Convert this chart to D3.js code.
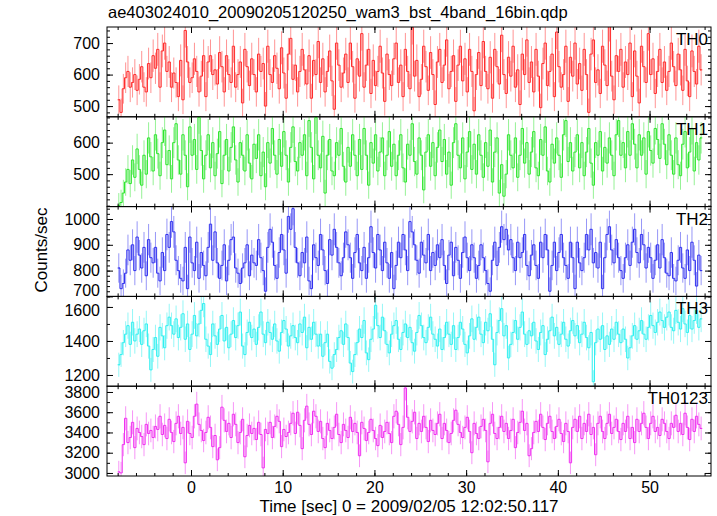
<!DOCTYPE html>
<html><head><meta charset="utf-8">
<script src="https://cdn.jsdelivr.net/npm/d3@7"></script>
<style>body{margin:0;background:#fff}svg{display:block}text{font-family:"Liberation Sans",Arial,sans-serif}</style>
</head><body><div id="c"></div>
<script>
const title = "ae403024010_20090205120250_wam3_bst_4band_16bin.qdp";
const xLabel = "Time [sec] 0 = 2009/02/05 12:02:50.117";
const yLabel = "Counts/sec";
const tStart = -7.875, binWidth = 0.25;
const panelNames = ["TH0","TH1","TH2","TH3","TH0123"];
const xTicks = [0,10,20,30,40,50];

const th0 = [520,480,555,590,610,560,575,600,550,585,625,560,545,635,590,660,620,680,560,675,
700,610,640,560,605,575,530,645,520,740,640,575,590,650,610,545,595,660,530,640,
660,600,615,570,670,625,545,660,600,575,690,560,600,640,510,680,625,565,650,600,
545,665,610,635,500,690,600,575,660,620,555,685,605,525,665,715,585,630,545,610,
680,615,570,660,525,645,600,705,575,650,545,610,675,580,490,700,630,560,605,665,
575,700,625,525,650,595,730,560,630,680,540,645,565,610,690,605,515,665,600,565,
650,700,575,630,530,680,610,555,750,595,645,530,585,690,625,550,670,600,505,640,
680,575,630,710,555,610,660,515,630,690,580,650,545,680,610,485,600,670,565,705,
610,555,655,525,680,625,570,725,600,540,655,595,690,560,615,505,665,600,710,575,
640,545,680,595,495,635,700,565,610,665,530,735,625,560,600,690,515,655,595,700,
570,635,550,680,600,480,665,710,575,615,540,690,630,565,760,595,520,660,610,680,
560,640,600,700,530,675,595,510,690,625,575,730,600,650,540,610,680,575,640,550,
610,700,625,565,665,615,550,680,580,530,675,610,570,690,615];
const th1 = [400,410,440,475,515,470,545,490,580,515,465,560,500,615,555,510,625,565,495,600,
640,530,575,485,600,660,545,500,625,560,460,650,560,610,515,680,575,485,560,625,
520,600,495,565,635,470,560,610,510,585,650,545,475,600,560,510,625,535,485,595,
550,625,495,570,460,600,535,645,560,500,610,525,635,560,475,585,650,540,510,600,
560,625,495,670,585,485,680,560,520,620,440,560,610,510,495,600,560,645,525,475,
585,525,625,560,495,610,515,645,560,465,600,535,625,510,570,615,495,560,635,525,
595,495,560,625,520,475,595,560,660,540,500,615,560,450,570,625,525,600,495,585,
640,540,610,500,570,465,600,660,560,520,615,485,570,635,515,595,500,625,560,490,
600,525,640,475,570,615,440,530,430,500,625,560,520,615,490,560,645,535,600,500,
570,635,520,495,610,560,650,510,475,595,535,615,560,490,625,670,540,600,510,570,
625,520,600,495,570,645,535,465,600,560,635,510,585,535,615,560,495,625,670,560,
600,520,635,560,660,595,520,625,560,615,500,635,575,535,645,610,550,660,595,530,
625,560,500,615,530,495,595,635,520,570,645,510,600,545,615];
const th2 = [810,730,750,790,880,840,900,800,930,860,810,890,780,920,850,830,890,790,760,870,
800,940,890,990,950,840,800,770,760,890,730,930,830,800,910,770,870,820,780,890,
980,840,950,830,770,820,900,760,840,920,930,810,790,750,810,830,900,780,860,830,
820,920,850,800,720,890,960,910,820,770,870,940,880,790,1010,960,1040,890,830,780,
870,830,930,760,730,900,850,820,940,880,800,750,920,860,960,890,830,780,850,950,
900,850,770,870,940,830,800,890,770,850,970,870,810,940,880,800,910,830,770,870,
730,820,910,850,940,880,800,990,950,900,840,790,910,860,830,940,800,870,820,900,
850,920,820,750,860,910,780,890,840,770,870,930,850,800,900,850,770,820,900,850,
800,750,720,840,910,820,890,970,920,960,880,920,850,800,910,850,870,940,820,780,
860,900,820,770,910,850,940,880,720,820,910,800,870,940,850,820,770,910,850,730,
910,830,800,850,940,880,960,830,870,810,910,730,850,940,970,880,830,920,850,800,
770,850,900,820,910,960,870,830,940,900,810,890,850,770,840,900,810,920,850,790,
780,870,770,760,840,890,810,770,880,800,910,840,740,860,800];
const th3 = [1260,1320,1390,1440,1490,1380,1510,1400,1440,1470,1380,1460,1500,1370,1230,1350,1420,1310,1480,1430,
1360,1490,1540,1490,1440,1530,1420,1480,1560,1410,1500,1350,1440,1550,1430,1500,1580,1620,1410,1370,
1320,1500,1430,1380,1470,1550,1400,1480,1360,1440,1520,1420,1490,1570,1370,1320,1450,1510,1420,1470,
1380,1480,1570,1440,1390,1510,1450,1410,1500,1400,1340,1450,1520,1470,1370,1430,1490,1420,1390,1500,
1450,1540,1360,1480,1410,1510,1440,1370,1440,1310,1390,1440,1280,1240,1320,1350,1420,1460,1380,1500,
1420,1270,1220,1320,1390,1470,1420,1520,1330,1290,1410,1470,1610,1490,1420,1540,1460,1380,1330,1440,
1490,1520,1410,1350,1450,1500,1420,1480,1390,1340,1450,1550,1490,1420,1390,1480,1540,1440,1410,1370,
1470,1350,1420,1510,1440,1380,1490,1350,1420,1510,1470,1380,1330,1430,1530,1410,1480,1540,1440,1390,
1510,1460,1560,1410,1260,1450,1520,1590,1430,1490,1300,1380,1450,1520,1410,1480,1570,1440,1380,1460,
1430,1510,1400,1350,1450,1490,1320,1410,1460,1540,1430,1480,1380,1440,1510,1410,1370,1460,1520,1430,
1490,1390,1440,1510,1420,1360,1450,1160,1390,1470,1410,1490,1350,1430,1380,1470,1410,1510,1440,1390,
1470,1410,1300,1360,1430,1490,1410,1460,1520,1440,1410,1480,1550,1490,1450,1510,1570,1520,1480,1540,
1570,1480,1460,1580,1510,1470,1590,1500,1450,1550,1470,1520,1580,1480,1530];
const th0123 = [3010,3000,3280,3540,3300,3350,3500,3250,3440,3400,3360,3280,3480,3390,3420,3350,3460,3430,3560,3380,
3470,3340,3530,3400,3310,3490,3560,3390,3450,3100,3510,3390,3350,3560,3680,3480,3420,3320,3400,3550,
3450,3260,3370,3130,3250,3650,3520,3410,3490,3350,3580,3480,3300,3400,3530,3160,3370,3470,3390,3440,
3330,3500,3380,3050,3430,3390,3500,3350,3460,3560,3510,3260,3430,3360,3400,3490,3590,3390,3600,3470,
3240,3520,3660,3480,3380,3610,3560,3410,3510,3340,3250,3490,3420,3340,3450,3580,3380,3300,3480,3420,
3350,3550,3410,3490,3400,3170,3500,3440,3320,3400,3530,3420,3340,3270,3470,3350,3410,3500,3390,3300,
3560,3610,3480,3280,3450,3840,3550,3410,3510,3600,3340,3490,3410,3560,3450,3310,3520,3420,3380,3490,
3580,3340,3490,3420,3300,3390,3520,3620,3480,3400,3350,3450,3550,3410,3200,3490,3390,3340,3460,3530,
3420,3110,3490,3580,3390,3340,3450,3560,3410,3490,3340,3420,3530,3250,3400,3500,3610,3420,3490,3170,
3240,3400,3510,3410,3580,3450,3330,3490,3560,3410,3340,3460,3530,3390,3310,3490,3410,3100,3450,3530,
3410,3560,3340,3490,3410,3580,3380,3450,3180,3490,3560,3410,3340,3490,3580,3390,3450,3530,3410,3330,
3490,3410,3560,3340,3450,3300,3530,3410,3490,3590,3450,3340,3490,3560,3410,3450,3370,3530,3490,3410,
3340,3490,3450,3570,3410,3490,3380,3590,3450,3330,3530,3410,3560,3480,3440];

const series = [th0, th1, th2, th3, th0123];
const yDomains = [[466,751],[397,682],[700,1048],[1134,1662],[2970,3857]];
const yMajor = [[500,600,700],[500,600],[700,800,900,1000],[1200,1400,1600],[3000,3200,3400,3600,3800]];
const yMinorStep = [20,20,20,100,100];
const colors = ["#ff2a2a","#2ee62e","#2f2fef","#2ef0f0","#f02ef0"];

const W = 717, H = 516;
const L = 107, R = 711, T = 27, B = 476;
const ph = (B - T) / 5;
const svg = d3.select("#c").append("svg").attr("width", W).attr("height", H);
const x = d3.scaleLinear().domain([-9.16, 56.7]).range([L, R]);
const xMinor = d3.range(-8, 57, 2);

svg.append("defs").selectAll("clipPath").data(series).join("clipPath")
  .attr("id", (d,i) => "cp" + i)
  .append("rect").attr("x", L).attr("width", R - L)
  .attr("y", (d,i) => T + i*ph).attr("height", ph);

series.forEach((vals, i) => {
  const top = T + i*ph, bot = top + ph;
  const y = d3.scaleLinear().domain(yDomains[i]).range([bot, top]);
  const yMin = d3.range(Math.ceil(yDomains[i][0]/yMinorStep[i])*yMinorStep[i], yDomains[i][1], yMinorStep[i]);
  const g = svg.append("g");
  const pts = vals.map((v, k) => ({t: tStart + k*binWidth, v: v, e: 2*Math.sqrt(v)}));
  const dg = g.append("g").attr("clip-path", `url(#cp${i})`);
  dg.selectAll("line.e").data(pts).join("line").attr("class","e")
    .attr("x1", d => x(d.t)).attr("x2", d => x(d.t))
    .attr("y1", d => y(d.v - d.e)).attr("y2", d => y(d.v + d.e))
    .attr("stroke", colors[i]).attr("stroke-width", 1).attr("stroke-opacity", 0.5);
  const line = d3.line().x(d => x(d.t)).y(d => y(d.v)).curve(d3.curveStep);
  dg.append("path").attr("d", line(pts)).attr("fill", "none")
    .attr("stroke", colors[i]).attr("stroke-width", 1);
  dg.selectAll("line.h").data([pts[0], pts[pts.length-1]]).join("line").attr("class","h")
    .attr("x1", d => x(d.t - binWidth/2)).attr("x2", d => x(d.t + binWidth/2))
    .attr("y1", d => y(d.v)).attr("y2", d => y(d.v))
    .attr("stroke", colors[i]).attr("stroke-width", 1);

  const axStyle = sel => { sel.selectAll(".domain").remove(); sel.selectAll("line").attr("stroke","#000"); };
  g.append("g").attr("transform", `translate(0,${bot})`)
    .call(d3.axisBottom(x).tickValues(xMinor).tickSize(-3).tickFormat("")).call(axStyle);
  g.append("g").attr("transform", `translate(0,${top})`)
    .call(d3.axisTop(x).tickValues(xMinor).tickSize(-3).tickFormat("")).call(axStyle);
  g.append("g").attr("transform", `translate(0,${top})`)
    .call(d3.axisTop(x).tickValues(xTicks).tickSize(-6).tickFormat("")).call(axStyle);
  const xb = g.append("g").attr("transform", `translate(0,${bot})`)
    .call(d3.axisBottom(x).tickValues(xTicks).tickSize(-6).tickPadding(6)
      .tickFormat(i === 4 ? d3.format("d") : "")).call(axStyle);
  xb.selectAll("text").attr("font-size", 16).attr("fill", "#000");
  g.append("g").attr("transform", `translate(${L},0)`)
    .call(d3.axisLeft(y).tickValues(yMin).tickSize(-3).tickFormat("")).call(axStyle);
  g.append("g").attr("transform", `translate(${R},0)`)
    .call(d3.axisRight(y).tickValues(yMin).tickSize(-3).tickFormat("")).call(axStyle);
  g.append("g").attr("transform", `translate(${R},0)`)
    .call(d3.axisRight(y).tickValues(yMajor[i]).tickSize(-6).tickFormat("")).call(axStyle);
  const yl = g.append("g").attr("transform", `translate(${L},0)`)
    .call(d3.axisLeft(y).tickValues(yMajor[i]).tickSize(-6).tickPadding(7).tickFormat(d3.format("d"))).call(axStyle);
  yl.selectAll("text").attr("font-size", 16).attr("fill", "#000");
  yl.selectAll(".tick").filter(d => i === 2 && d === 700).select("text").attr("dy", "-0.05em");
  yl.selectAll(".tick").filter(d => i === 3 && d === 1600).select("text").attr("dy", "0.55em");

  g.append("rect").attr("x", L).attr("y", top).attr("width", R - L).attr("height", ph)
    .attr("fill", "none").attr("stroke", "#000").attr("stroke-width", 1);
  g.append("text").attr("x", R - 3).attr("y", top + 18).attr("text-anchor", "end")
    .attr("font-size", 17).attr("fill", "#000").text(panelNames[i]);
});

svg.append("text").attr("x", 108).attr("y", 18).attr("font-size", 16.5).text(title);
svg.append("text").attr("x", 409).attr("y", 512).attr("text-anchor", "middle").attr("font-size", 17).text(xLabel);
svg.append("text").attr("transform", "translate(47,250) rotate(-90)").attr("text-anchor", "middle")
  .attr("font-size", 17).text(yLabel);
</script></body></html>
